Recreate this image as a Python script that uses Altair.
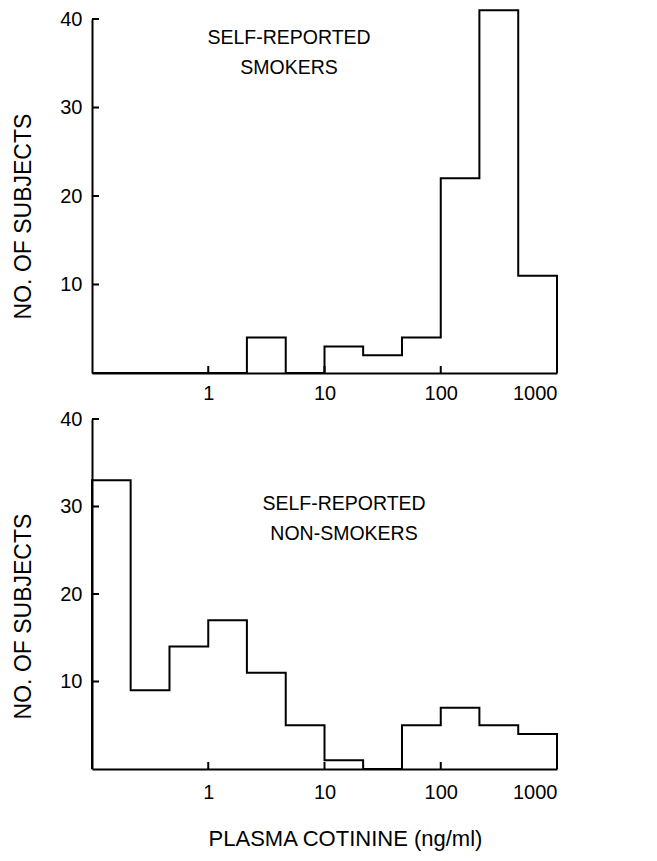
import altair as alt
import pandas as pd

# bin edges (ng/ml), log-spaced thirds of a decade
edges = [0.1, 0.215, 0.464, 1, 2.15, 4.64, 10, 21.5, 46.4, 100, 215, 464, 1000]
smokers = [0, 0, 0, 0, 4, 0, 3, 2, 4, 22, 41, 11]
nonsmokers = [33, 9, 14, 17, 11, 5, 1, 0, 5, 7, 5, 4]
panel_labels = ["SELF-REPORTED\nSMOKERS", "SELF-REPORTED\nNON-SMOKERS"]
y_tick_values = [10, 20, 30, 40]
x_label_values = [1, 10, 100, 1000]
x_inner_ticks = [1, 10, 100]

FONT = "Liberation Sans"
W = 465


def outline(counts):
    rows = [{"x": edges[0], "y": 0, "o": 0}]
    k = 1
    for i, c in enumerate(counts):
        rows.append({"x": edges[i], "y": c, "o": k}); k += 1
        rows.append({"x": edges[i + 1], "y": c, "o": k}); k += 1
    rows.append({"x": edges[-1], "y": 0, "o": k})
    return pd.DataFrame(rows)


def panel(counts, label, lx, ly, h, with_title):
    xscale = alt.Scale(type="log", domain=[0.1, 1000], nice=False)
    yscale = alt.Scale(domain=[0, 40], nice=False)
    if with_title:
        xaxis = alt.Axis(values=x_label_values, format="d", ticks=False, grid=False,
                         labelPadding=13, titleX=253, titleY=69, titleBaseline="middle",
                         titleFontSize=22, titleFont=FONT, titleFontWeight="normal")
        xtitle = "PLASMA COTININE (ng/ml)"
    else:
        xaxis = alt.Axis(values=x_label_values, format="d", ticks=False, grid=False,
                         labelPadding=10)
        xtitle = None
    yaxis = alt.Axis(values=y_tick_values, ticks=False, grid=False, labelPadding=10,
                     titleX=-62, titleY=197, titleBaseline="alphabetic", titleAngle=270,
                     titleFontSize=23, titleFont=FONT, titleFontWeight="normal")
    ytitle = "NO. OF SUBJECTS"
    line = alt.Chart(outline(counts)).mark_line(color="black", strokeWidth=2).encode(
        x=alt.X("x:Q", scale=xscale, axis=xaxis, title=xtitle),
        y=alt.Y("y:Q", scale=yscale, axis=yaxis, title=ytitle),
        order="o:Q",
    )
    yt = alt.Chart(pd.DataFrame({"v": y_tick_values})).mark_rule(color="black", strokeWidth=2).encode(
        y=alt.Y("v:Q", scale=yscale, axis=yaxis, title=ytitle), x=alt.value(0), x2=alt.value(7))
    xt = alt.Chart(pd.DataFrame({"v": x_inner_ticks})).mark_rule(color="black", strokeWidth=2).encode(
        x=alt.X("v:Q", scale=xscale, axis=xaxis, title=xtitle), y=alt.value(h), y2=alt.value(h - 7))
    txt = alt.Chart(pd.DataFrame({"t": [label]})).mark_text(
        font=FONT, fontSize=19.5, lineHeight=30, align="center", baseline="middle",
        lineBreak="\n", color="black").encode(text="t:N", x=alt.value(lx), y=alt.value(ly))
    return alt.layer(line, yt, xt, txt).properties(width=W, height=h)


top = panel(smokers, panel_labels[0], 197, 19, 354, False)
bottom = panel(nonsmokers, panel_labels[1], 252, 85, 350, True)

chart = alt.vconcat(top, bottom, spacing=46, bounds="flush").properties(
    padding={"left": 4, "top": -2, "right": 5, "bottom": 5},
).configure_view(stroke=None).configure_axis(
    labelFont=FONT, labelFontSize=20, labelColor="black",
    domainColor="black", domainWidth=2, titleColor="black",
)

chart.save("out.html", embed_options={"renderer": "svg", "actions": False})
